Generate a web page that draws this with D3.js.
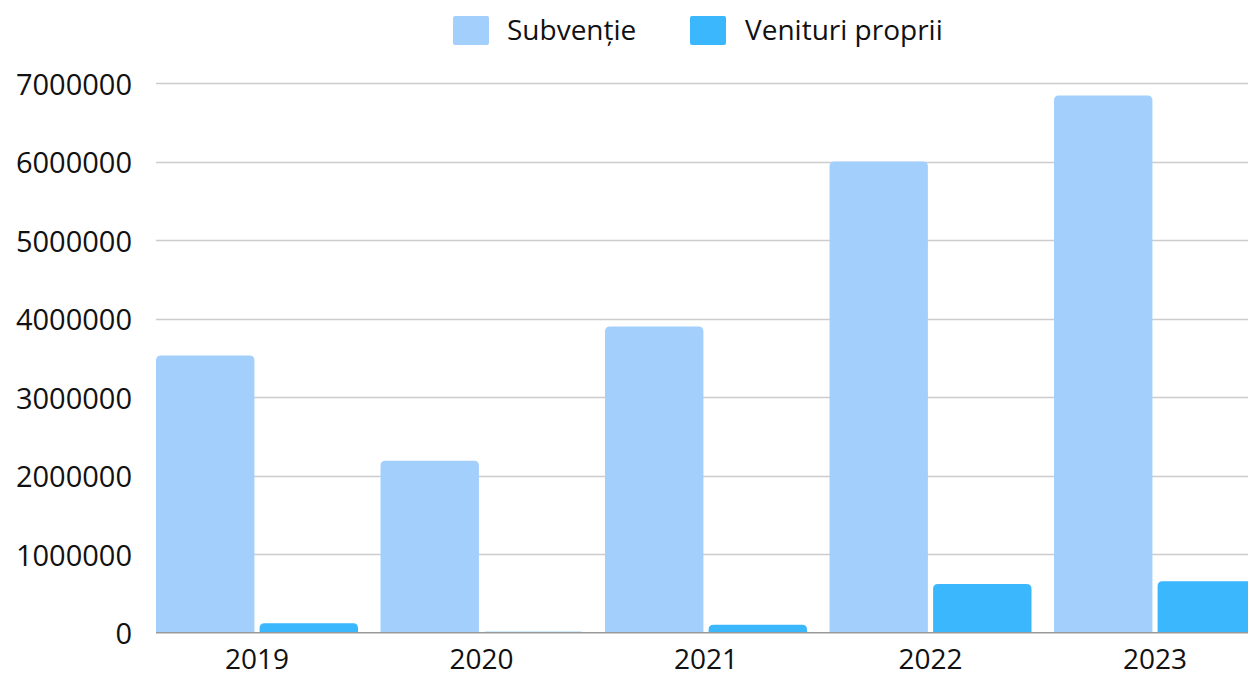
<!DOCTYPE html>
<html>
<head>
<meta charset="utf-8">
<script src="https://cdn.jsdelivr.net/npm/d3@7"></script>
<style>
  html, body { margin: 0; padding: 0; background: #ffffff; }
  svg { display: block; }
  text { font-family: "Open Sans", Roboto, "Noto Sans", sans-serif; fill: #111; }
</style>
</head>
<body>
<svg id="chart" width="1248" height="673"></svg>
<script>
const years = ["2019", "2020", "2021", "2022", "2023"];
const seriesNames = ["Subvenție", "Venituri proprii"];
const subventie = [3530000, 2190000, 3900000, 6000000, 6840000];
const venituriProprii = [120000, 12000, 100000, 620000, 655000];
const yTicks = [0, 1000000, 2000000, 3000000, 4000000, 5000000, 6000000, 7000000];
const colors = ["#a3cffd", "#3bb7fe"];

const svg = d3.select("#chart");
const W = 1248, H = 673;
const plotLeft = 156, plotTop = 83, plotBottom = 632.7;

const y = d3.scaleLinear().domain([0, 7000000]).range([plotBottom, plotTop]);
const x0 = d3.scaleBand().domain(years).range([plotLeft, plotLeft + 5 * 224.5]).padding(0);
const x1 = d3.scaleBand().domain(seriesNames).range([0, 202]).paddingInner(0.05);

// gridlines
svg.append("g").selectAll("line").data(yTicks.filter(d => d > 0)).join("line")
  .attr("x1", plotLeft).attr("x2", W)
  .attr("y1", d => Math.round(y(d)) + 0.5).attr("y2", d => Math.round(y(d)) + 0.5)
  .attr("stroke", "#cccccc").attr("stroke-width", 1.5);

// y labels
svg.append("g").selectAll("text").data(yTicks).join("text")
  .attr("x", 132).attr("y", d => y(d))
  .attr("text-anchor", "end").attr("dominant-baseline", "central")
  .style("font-size", "29px")
  .text(d => d3.format("d")(d));

// bars
const data = years.map((yr, i) => ({ year: yr, values: [subventie[i], venituriProprii[i]] }));
function barPath(x, w, yTop, yBot) {
  const h = yBot - yTop;
  const r = Math.min(5, h, w / 2);
  return `M${x},${yBot} L${x},${yTop + r} Q${x},${yTop} ${x + r},${yTop} L${x + w - r},${yTop} Q${x + w},${yTop} ${x + w},${yTop + r} L${x + w},${yBot} Z`;
}
const groups = svg.append("g").selectAll("g").data(data).join("g")
  .attr("transform", d => `translate(${x0(d.year)},0)`);
groups.selectAll("path").data(d => d.values.map((v, k) => ({ key: seriesNames[k], v, k }))).join("path")
  .attr("d", d => barPath(x1(d.key), x1.bandwidth(), y(d.v), y(0)))
  .attr("fill", d => colors[d.k]);

// axis baseline
svg.append("line").attr("x1", plotLeft).attr("x2", W)
  .attr("y1", plotBottom).attr("y2", plotBottom)
  .attr("stroke", "#999999").attr("stroke-width", 1.5);

// x labels
svg.append("g").selectAll("text").data(years).join("text")
  .attr("x", d => x0(d) + 101).attr("y", 669)
  .attr("text-anchor", "middle")
  .style("font-size", "28px")
  .text(d => d);

// legend
const legend = svg.append("g");
const legendItems = [{ name: seriesNames[0], sx: 453, tx: 507 }, { name: seriesNames[1], sx: 690, tx: 745 }];
legendItems.forEach((it, k) => {
  legend.append("rect").attr("x", it.sx).attr("y", 16).attr("width", 36).attr("height", 29)
    .attr("rx", 2).attr("fill", colors[k]);
  legend.append("text").attr("x", it.tx).attr("y", 40)
    .style("font-size", "28px").text(it.name);
});
</script>
</body>
</html>
